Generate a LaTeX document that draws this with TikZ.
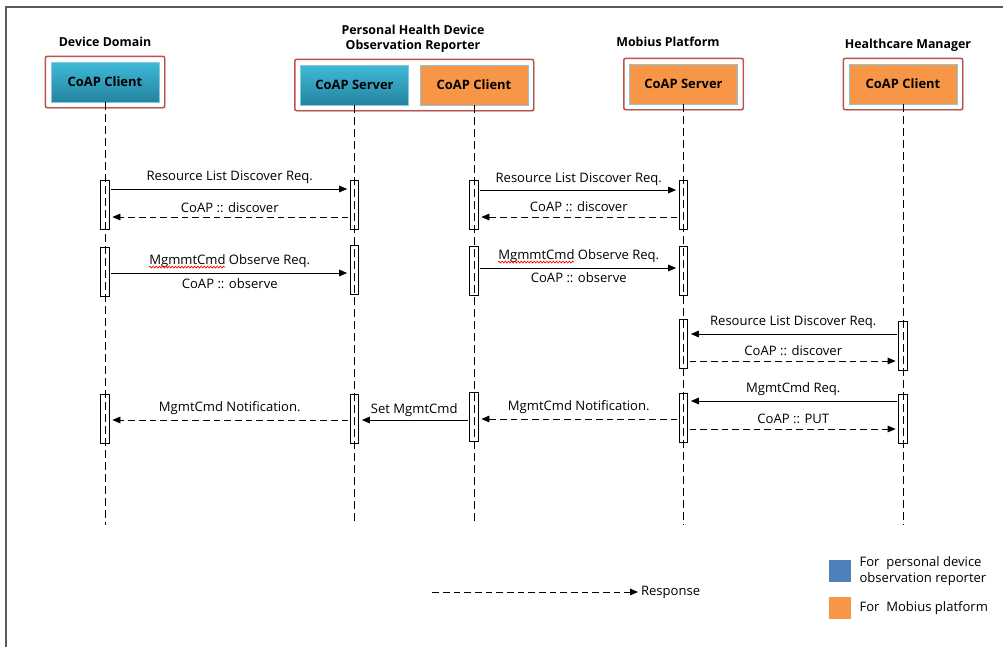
\documentclass[tikz,border=0pt]{standalone}
\usepackage{fontspec}
\setmainfont{Open Sans}
\usetikzlibrary{arrows.meta,backgrounds,fit,positioning,shadows,decorations.pathmorphing}

\definecolor{boxred}{RGB}{192,80,77}
\definecolor{coaptop}{RGB}{62,186,216}
\definecolor{coapbot}{RGB}{36,132,160}
\definecolor{coaporange}{RGB}{247,150,70}
\definecolor{rimblue}{RGB}{140,200,220}
\definecolor{legblue}{RGB}{79,129,189}
\definecolor{framegray}{RGB}{90,90,90}
\newlength\wavelen

\tikzset{
  title/.style={font=\bfseries\fontsize{9.3}{11}\selectfont, align=center, inner sep=1pt},
  entity/.style={draw=rimblue, line width=0.6pt, minimum width=81pt, minimum height=30pt, inner sep=0pt, font=\bfseries\fontsize{9.7}{11}\selectfont},
  blueent/.style={entity, top color=coaptop, bottom color=coapbot},
  orangeent/.style={entity, fill=coaporange},
  redbox/.style={draw=boxred, line width=1.1pt, fill=white, rounded corners=1.5pt, inner sep=4pt, drop shadow={opacity=0.25, shadow xshift=0.8pt, shadow yshift=-0.8pt}},
  life/.style={dash pattern=on 6pt off 3pt, line width=0.5pt},
  bar/.style={draw, line width=0.6pt, minimum width=6.5pt, minimum height=37pt, inner sep=0pt},
  req/.style={-{Triangle[length=6pt,width=5pt]}, line width=0.6pt, shorten >=2pt, shorten <=1pt},
  resp/.style={req, dash pattern=on 5pt off 3pt},
  lbl/.style={font=\fontsize{9.8}{11.5}\selectfont, inner sep=1pt},
  spellwave/.style={draw=red, line width=0.5pt, decorate, decoration={snake, amplitude=0.7pt, segment length=2.4pt}}
}

\begin{document}
\settowidth{\wavelen}{\fontsize{9.8}{11.5}\selectfont MgmmtCmd}%
\begin{tikzpicture}[x=0.75pt, y=-0.75pt]
  \useasboundingbox (0,0) rectangle (1003,647);
  \draw[framegray, line width=1.2pt] (6,647) -- (6,7) -- (1003,7);

  \node[title] (tdd) at (105,42) {Device Domain};
  \node[title] (tphd) at (413,39) {Personal Health Device\\Observation Reporter};
  \node[title] (tmb) at (668,42) {Mobius Platform};
  \node[title] (thm) at (908,45) {Healthcare Manager};

  \node[blueent] (dd) at (105,82) {CoAP Client};
  \node[blueent] (ps) at (354.5,85) {CoAP Server};
  \node[orangeent] (pc) at (474,85) {CoAP Client};
  \node[orangeent] (mb) at (683.5,84) {CoAP Server};
  \node[orangeent] (hm) at (903,84) {CoAP Client};

  \begin{scope}[on background layer]
    \node[redbox, fit=(dd)] (ddbox) {};
    \node[redbox, fit=(ps)(pc)] (phdbox) {};
    \node[redbox, fit=(mb)] (mbbox) {};
    \node[redbox, fit=(hm)] (hmbox) {};
  \end{scope}

  \coordinate (bot) at (0,525);
  \foreach \n in {dd,ps,pc,mb,hm}
    \draw[life] (\n.south) -- (\n.south |- bot);

  \foreach \n/\l/\y in {dd1/dd/205, dd2/dd/272, dd3/dd/419, ps1/ps/205, ps2/ps/270, ps3/ps/419,
      pc1/pc/205, pc2/pc/271, pc3/pc/417, mb1/mb/205, mb2/mb/271, mb3/mb/344, mb4/mb/418,
      hm1/hm/346, hm2/hm/419}
    \node[bar] (\n) at (\l |- 0,\y) {};

  \draw[req] (dd1.east |- 0,189) -- node[lbl, above=3pt] {Resource List Discover Req.} (ps1.west |- 0,189);
  \draw[resp] (ps1.west |- 0,217) -- node[lbl, above=2pt] {CoAP :: discover} (dd1.east |- 0,217);
  \draw[req] (dd2.east |- 0,273) -- node[lbl, above=3pt] (obs1) {MgmmtCmd Observe Req.}
    node[lbl, below=3pt] {CoAP :: observe} (ps2.west |- 0,273);

  \draw[req] (pc1.east |- 0,190) -- node[lbl, above=2pt] {Resource List Discover Req.} (mb1.west |- 0,190);
  \draw[resp] (mb1.west |- 0,217) -- node[lbl, above=3pt] {CoAP :: discover} (pc1.east |- 0,217);
  \draw[req] (pc2.east |- 0,268) -- node[lbl, above=3pt] (obs2) {MgmmtCmd Observe Req.}
    node[lbl, below=2pt] {CoAP :: observe} (mb2.west |- 0,268);
  \foreach \w in {obs1,obs2}
    \draw[spellwave] ([xshift=1pt,yshift=-2.2pt]\w.base west) -- ++(\wavelen,0pt);

  \draw[req] (hm1.west |- 0,334) -- node[lbl, above=3pt] {Resource List Discover Req.} (mb3.east |- 0,334);
  \draw[resp] (mb3.east |- 0,361) -- node[lbl, above=3pt] {CoAP :: discover} (hm1.west |- 0,361);
  \draw[req] (hm2.west |- 0,401) -- node[lbl, above=3pt] {MgmtCmd Req.} (mb4.east |- 0,401);
  \draw[resp] (mb4.east |- 0,429) -- node[lbl, above=3pt] {CoAP :: PUT} (hm2.west |- 0,429);

  \draw[resp] (mb4.west |- 0,419) -- node[lbl, above=3pt] {MgmtCmd Notification.} (pc3.east |- 0,419);
  \draw[req] (pc3.west |- 0,420) -- node[lbl, above=1pt] {Set MgmtCmd} (ps3.east |- 0,420);
  \draw[resp] (ps3.west |- 0,420) -- node[lbl, above=3pt] {MgmtCmd Notification.} (dd3.east |- 0,420);

  \coordinate (rs) at (431,592);
  \coordinate (re) at (638,592);
  \draw[resp, shorten >=0pt] (rs) -- (re) node[lbl, right=1pt] (resptxt) {Response};

  \node[fill=legblue, minimum width=16.5pt, minimum height=17pt, inner sep=0pt] (kblue) at (840,571) {};
  \node[lbl, align=left, right=5pt of kblue] (kbluetxt) {For\ \ personal device\\observation reporter};
  \node[fill=coaporange, minimum width=16.5pt, minimum height=17pt, inner sep=0pt] (korange) at (840,608) {};
  \node[lbl, right=5pt of korange] (korangetxt) {For\ \ Mobius platform};
\end{tikzpicture}
\end{document}
